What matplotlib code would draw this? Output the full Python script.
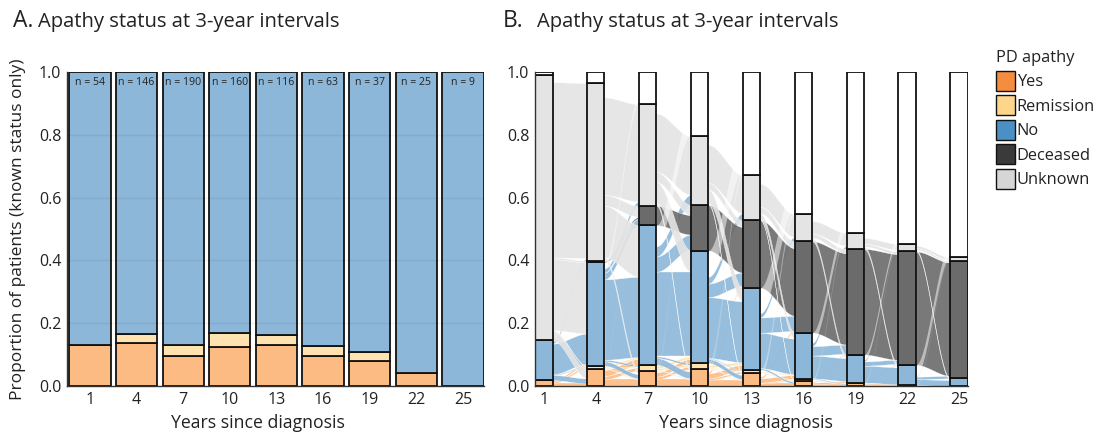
import numpy as np
import matplotlib
matplotlib.use("Agg")
import matplotlib.pyplot as plt
from matplotlib.patches import Patch

plt.rcParams['font.family'] = ['Open Sans', 'DejaVu Sans']

# ---------------- data ----------------
years = [1, 4, 7, 10, 13, 16, 19, 22, 25]
codes = ["Y", "R", "N", "D", "U", "B"]
labels = ["Yes", "Remission", "No", "Deceased", "Unknown"]

# patients per status at each time point (cohort of 371)
yes_n = [7, 20, 18, 20, 15, 6, 3, 1, 0]
remission_n = [0, 4, 7, 7, 4, 2, 1, 0, 0]
no_n = [47, 122, 165, 133, 97, 55, 33, 24, 9]
deceased_n = [0, 2, 23, 54, 80, 108, 125, 134, 139]
unknown_n = [313, 210, 120, 81, 53, 32, 19, 9, 4]
notreached_n = [4, 13, 38, 76, 122, 168, 190, 203, 219]

# transitions between consecutive time points (from, to, patients)
flows_1_4 = [("Y", "Y", 3), ("Y", "R", 2), ("Y", "N", 2),
             ("N", "Y", 6), ("N", "R", 1), ("N", "N", 36), ("N", "U", 3), ("N", "B", 1),
             ("U", "Y", 11), ("U", "R", 1), ("U", "N", 84), ("U", "D", 2), ("U", "U", 207), ("U", "B", 8),
             ("B", "B", 4)]
flows_4_7 = [("Y", "Y", 8), ("Y", "R", 4), ("Y", "N", 7), ("Y", "B", 1),
             ("R", "Y", 1), ("R", "R", 1), ("R", "N", 2),
             ("N", "Y", 5), ("N", "R", 2), ("N", "N", 95), ("N", "D", 8), ("N", "U", 5), ("N", "B", 7),
             ("D", "D", 2),
             ("U", "Y", 4), ("U", "N", 61), ("U", "D", 13), ("U", "U", 115), ("U", "B", 17),
             ("B", "B", 13)]
flows_7_10 = [("Y", "Y", 8), ("Y", "R", 3), ("Y", "N", 5), ("Y", "D", 1), ("Y", "B", 1),
              ("R", "Y", 1), ("R", "R", 2), ("R", "N", 3), ("R", "B", 1),
              ("N", "Y", 8), ("N", "R", 2), ("N", "N", 100), ("N", "D", 18), ("N", "U", 12), ("N", "B", 25),
              ("D", "D", 23),
              ("U", "Y", 3), ("U", "N", 25), ("U", "D", 12), ("U", "U", 69), ("U", "B", 11),
              ("B", "B", 38)]
flows_10_13 = [("Y", "Y", 7), ("Y", "R", 2), ("Y", "N", 6), ("Y", "D", 2), ("Y", "B", 3),
               ("R", "Y", 1), ("R", "R", 1), ("R", "N", 3), ("R", "B", 2),
               ("N", "Y", 5), ("N", "R", 1), ("N", "N", 72), ("N", "D", 16), ("N", "U", 8), ("N", "B", 31),
               ("D", "D", 54),
               ("U", "Y", 2), ("U", "N", 16), ("U", "D", 8), ("U", "U", 45), ("U", "B", 10),
               ("B", "B", 76)]
flows_13_16 = [("Y", "Y", 3), ("Y", "R", 1), ("Y", "N", 5), ("Y", "D", 2), ("Y", "B", 4),
               ("R", "R", 1), ("R", "N", 1), ("R", "B", 2),
               ("N", "Y", 2), ("N", "N", 42), ("N", "D", 18), ("N", "U", 5), ("N", "B", 30),
               ("D", "D", 80),
               ("U", "Y", 1), ("U", "N", 7), ("U", "D", 8), ("U", "U", 27), ("U", "B", 10),
               ("B", "B", 122)]
flows_16_19 = [("Y", "Y", 2), ("Y", "N", 2), ("Y", "D", 1), ("Y", "B", 1),
               ("R", "R", 1), ("R", "B", 1),
               ("N", "Y", 1), ("N", "N", 27), ("N", "D", 11), ("N", "U", 4), ("N", "B", 12),
               ("D", "D", 108),
               ("U", "N", 4), ("U", "D", 5), ("U", "U", 15), ("U", "B", 8),
               ("B", "B", 168)]
flows_19_22 = [("Y", "Y", 1), ("Y", "N", 1), ("Y", "D", 1),
               ("R", "B", 1),
               ("N", "N", 20), ("N", "D", 5), ("N", "U", 2), ("N", "B", 6),
               ("D", "D", 125),
               ("U", "N", 3), ("U", "D", 3), ("U", "U", 7), ("U", "B", 6),
               ("B", "B", 190)]
flows_22_25 = [("Y", "B", 1),
               ("N", "N", 7), ("N", "D", 3), ("N", "U", 1), ("N", "B", 13),
               ("D", "D", 134),
               ("U", "N", 2), ("U", "D", 2), ("U", "U", 3), ("U", "B", 2),
               ("B", "B", 203)]
transitions = [flows_1_4, flows_4_7, flows_7_10, flows_10_13,
               flows_13_16, flows_16_19, flows_19_22, flows_22_25]

# ---------------- styles ----------------
bar_col = {"Y": "#FDBB84", "R": "#FEE3B0", "N": "#8CB7D9",
           "D": "#6B6B6B", "U": "#E4E4E4", "B": "#FFFFFF"}
leg_col = ["#F58D3F", "#FDD68C", "#4A90C4", "#3A3A3A", "#D6D6D6"]
TXT = "#222222"

fig = plt.figure(figsize=(11.03, 4.36), dpi=100)
axA = fig.add_axes([0.0607, 0.1147, 0.378, 0.720])
axB = fig.add_axes([0.485, 0.1147, 0.393, 0.720])

counts = {"Y": yes_n, "R": remission_n, "N": no_n, "D": deceased_n,
          "U": unknown_n, "B": notreached_n}

# ---------------- panel A ----------------
x = np.array(years, dtype=float)
known = np.array(yes_n) + np.array(remission_n) + np.array(no_n)
pY = np.array(yes_n) / known
pR = np.array(remission_n) / known
pN = np.array(no_n) / known
wA = 2.66
axA.bar(x, pY, width=wA, color=bar_col["Y"], edgecolor="#111111", linewidth=1.3, zorder=2)
axA.bar(x, pR, bottom=pY, width=wA, color=bar_col["R"], edgecolor="#111111", linewidth=1.3, zorder=2)
axA.bar(x, pN, bottom=pY + pR, width=wA, color=bar_col["N"], edgecolor="#111111", linewidth=1.3, zorder=2)
for xi, n in zip(x, known):
    axA.text(xi, 0.985, f"n = {n}", ha="center", va="top", fontsize=7.6, color=TXT, zorder=4)
for gy in [0.2, 0.4, 0.6, 0.8]:
    axA.axhline(gy, color=(0, 0, 0, 0.06), lw=1.0, zorder=3)
axA.set_xlim(-0.48, 26.35)
axA.set_ylim(0, 1.0)

# ---------------- panel B ----------------
T = 371.0
half = 0.5

def bottoms(k):
    b, cur = {}, 0.0
    for c in codes:
        b[c] = cur
        cur += counts[c][k] / T
    return b

def smooth(s):
    return 3 * s ** 2 - 2 * s ** 3

for k, fl in enumerate(transitions):
    xa, xb = years[k] + half, years[k + 1] - half
    sb, db = bottoms(k), bottoms(k + 1)
    src, dst = {}, {}
    cur = dict(sb)
    for s, d, n in sorted(fl, key=lambda f: (codes.index(f[0]), codes.index(f[1]))):
        src[(s, d)] = (cur[s], cur[s] + n / T)
        cur[s] += n / T
    cur = dict(db)
    for s, d, n in sorted(fl, key=lambda f: (codes.index(f[1]), codes.index(f[0]))):
        dst[(s, d)] = (cur[d], cur[d] + n / T)
        cur[d] += n / T
    xs = np.linspace(xa, xb, 80)
    w = smooth((xs - xa) / (xb - xa))
    # coloured flows
    for s, d, n in fl:
        if s == "B" or d == "B":
            continue
        (a0, a1), (b0, b1) = src[(s, d)], dst[(s, d)]
        lo = a0 + (b0 - a0) * w
        hi = a1 + (b1 - a1) * w
        axB.fill_between(xs, lo, hi, color=bar_col[s], alpha=0.9, lw=0.25,
                         edgecolor=(1, 1, 1, 0.2), zorder=1)
    # flows to not-yet-reached shown as white streaks
    for s, d, n in fl:
        if s == "B" or d != "B":
            continue
        (a0, a1), (b0, b1) = src[(s, d)], dst[(s, d)]
        lo = a0 + (b0 - a0) * w
        hi = a1 + (b1 - a1) * w
        axB.fill_between(xs, lo, hi, color="white", alpha=0.5, lw=0, zorder=1.5)

for k, yr in enumerate(years):
    b = bottoms(k)
    for c in codes:
        h = counts[c][k] / T
        if h <= 0:
            continue
        axB.bar(yr, h, bottom=b[c], width=1.0, color=bar_col[c],
                edgecolor="#111111", linewidth=1.3, zorder=3)

axB.set_xlim(0.48, 25.55)
axB.set_ylim(0, 1.0)

# ---------------- axes styling ----------------
for ax in (axA, axB):
    ax.set_xticks(years)
    ax.set_xticklabels([str(y) for y in years])
    ax.set_yticks([0.0, 0.2, 0.4, 0.6, 0.8, 1.0])
    ax.set_yticklabels(["0.0", "0.2", "0.4", "0.6", "0.8", "1.0"])
    ax.tick_params(length=0, labelsize=11.5, colors=TXT, pad=4)
    for sp in ["top", "right"]:
        ax.spines[sp].set_visible(False)
    for sp in ["left", "bottom"]:
        ax.spines[sp].set_color("#333333")
        ax.spines[sp].set_linewidth(1.0)
        ax.spines[sp].set_zorder(5)

# ---------------- titles & labels ----------------
fig.text(13 / 1103, 0.937, "A.", fontsize=16.5, color=TXT, va="baseline")
fig.text(38 / 1103, 0.937, "Apathy status at 3-year intervals", fontsize=14.5, color=TXT, va="baseline")
fig.text(503 / 1103, 0.937, "B.", fontsize=16.5, color=TXT, va="baseline")
fig.text(537 / 1103, 0.937, "Apathy status at 3-year intervals", fontsize=14.5, color=TXT, va="baseline")

fig.text(18 / 1103, 0.475, "Proportion of patients (known status only)", rotation=90,
         fontsize=12.5, color=TXT, ha="center", va="center")
fig.text(258 / 1103, 0.03, "Years since diagnosis", fontsize=12.7, color=TXT, ha="center", va="center")
fig.text(746 / 1103, 0.03, "Years since diagnosis", fontsize=12.7, color=TXT, ha="center", va="center")

handles = [Patch(facecolor=c, edgecolor="#111111", linewidth=1.0) for c in leg_col]
leg = fig.legend(handles, labels, title="PD apathy", loc="upper left",
                 bbox_to_anchor=(996 / 1103, 1 - 50 / 436), frameon=False,
                 fontsize=11.8, title_fontsize=11.8, handlelength=1.15, handleheight=1.5,
                 handletextpad=0.12, labelspacing=0.28, borderaxespad=0, borderpad=0)
leg._legend_box.align = "left"
for t in leg.get_texts():
    t.set_color(TXT)
leg.get_title().set_color(TXT)

fig.savefig("out.png", dpi=100)
